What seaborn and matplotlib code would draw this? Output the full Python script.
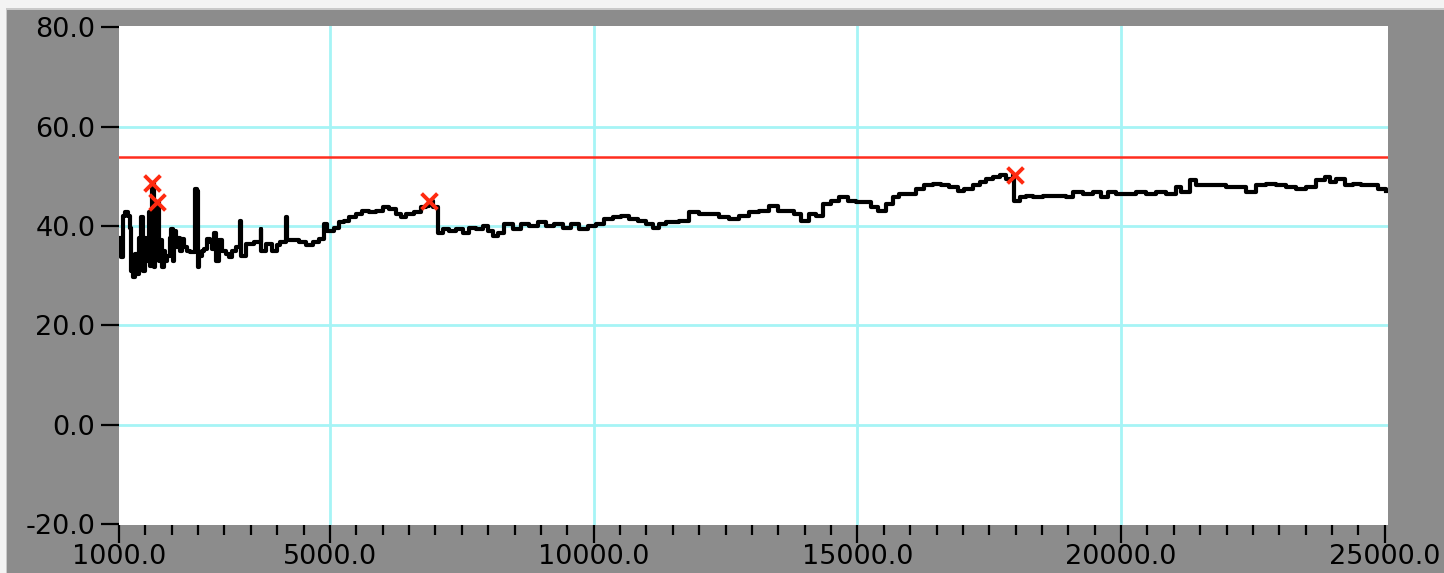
import matplotlib
matplotlib.use("Agg")
import matplotlib.pyplot as plt
import seaborn as sns
import pandas as pd
from matplotlib.patches import Rectangle
from matplotlib.ticker import MultipleLocator, FormatStrFormatter

# ---- data ----
x_vals = [
    1000, 1038, 1076, 1120, 1164, 1202, 1228, 1266, 1310, 1341, 1379, 1417, 1449, 1487,
    1519, 1563, 1594, 1632, 1658, 1689, 1721, 1753, 1784, 1816, 1847, 1879, 1911, 1961,
    1993, 2024, 2050, 2088, 2126, 2164, 2195, 2239, 2290, 2353, 2404, 2448, 2480, 2492,
    2518, 2575, 2619, 2670, 2720, 2764, 2809, 2840, 2897, 2960, 3020, 3086, 3150, 3210,
    3300, 3320, 3400, 3500, 3560, 3687, 3700, 3780, 3900, 3990, 4060, 4174, 4190, 4290,
    4420, 4541, 4670, 4795, 4889, 4950, 5040, 5079, 5174, 5269, 5363, 5490, 5616, 5743,
    5869, 5996, 6122, 6249, 6344, 6439, 6597, 6723, 6818, 6881, 6944, 7008, 7039, 7134,
    7261, 7387, 7514, 7640, 7767, 7893, 7988, 8083, 8178, 8304, 8462, 8620, 8778, 8937,
    9095, 9253, 9411, 9569, 9727, 9885, 10043, 10201, 10359, 10518, 10676, 10834, 10992,
    11118, 11245, 11371, 11434, 11623, 11813, 12003, 12193, 12382, 12572, 12762, 12951,
    13141, 13331, 13489, 13647, 13805, 13932, 14090, 14216, 14343, 14501, 14659, 14817,
    14975, 15133, 15260, 15386, 15544, 15671, 15797, 15955, 16113, 16272, 16430, 16588,
    16746, 16904, 17030, 17188, 17315, 17442, 17568, 17695, 17821, 17947, 17960, 18074,
    18200, 18327, 18516, 18769, 18959, 19085, 19275, 19465, 19623, 19749, 19907, 20097,
    20287, 20476, 20666, 20856, 21046, 21141, 21299, 21425, 21615, 21804, 21994, 22184,
    22374, 22563, 22753, 22943, 23132, 23322, 23512, 23702, 23860, 23955, 24081, 24239,
    24397, 24555, 24713, 24871, 25030,
]
y_vals = [
    37.7, 33.7, 42.1, 42.8, 42.1, 39.7, 31.0, 29.7, 34.4, 30.3, 37.7, 41.8, 31.0, 37.7,
    33.0, 42.8, 32.0, 48.6, 31.7, 39.1, 44.9, 33.0, 37.1, 31.7, 35.0, 33.0, 34.0, 37.7,
    39.4, 33.0, 39.1, 35.7, 37.7, 35.0, 37.4, 35.7, 35.0, 34.7, 34.7, 47.5, 47.1, 31.7,
    34.0, 35.0, 35.4, 37.4, 36.7, 35.4, 38.7, 33.0, 37.1, 35.0, 34.4, 33.7, 35.0, 35.7,
    41.1, 34.0, 36.4, 36.4, 36.7, 39.4, 35.0, 36.4, 35.0, 36.1, 36.7, 41.8, 37.1, 37.1,
    36.7, 36.1, 36.7, 37.4, 40.4, 39.1, 39.1, 39.7, 40.8, 41.1, 41.8, 42.4, 43.1, 42.8,
    43.1, 43.8, 43.4, 42.4, 41.8, 42.4, 42.8, 43.8, 44.1, 45.1, 43.8, 43.8, 38.7, 39.4,
    39.1, 39.4, 38.7, 39.7, 39.4, 40.1, 39.1, 38.1, 38.7, 40.4, 39.4, 40.4, 40.1, 40.8,
    40.1, 40.4, 39.7, 40.4, 39.4, 40.1, 40.4, 41.4, 41.8, 42.1, 41.4, 41.1, 40.4,
    39.7, 40.4, 40.8, 40.8, 41.1, 42.8, 42.4, 42.4, 41.8, 41.4, 42.1, 42.8,
    43.1, 44.1, 43.1, 43.1, 42.4, 41.1, 42.4, 42.1, 44.5, 45.1, 45.8, 45.1,
    44.8, 44.8, 43.8, 43.1, 44.5, 45.8, 46.5, 46.5, 47.5, 48.2, 48.5, 48.2,
    47.8, 47.1, 47.5, 48.2, 48.8, 49.5, 49.8, 50.2, 49.5, 50.2, 45.1, 45.8,
    46.1, 45.8, 46.1, 46.1, 45.8, 46.8, 46.5, 46.8, 45.8, 46.8, 46.5, 46.5,
    46.8, 46.5, 46.8, 46.5, 47.8, 46.8, 49.2, 48.2, 48.2, 48.2, 47.8, 47.8,
    46.8, 48.2, 48.5, 48.2, 47.8, 47.5, 47.8, 49.2, 49.8, 48.8, 49.5, 48.2,
    48.5, 48.2, 48.2, 47.5, 47.1,
]
marker_x = [1632, 1721, 6881, 17980]
marker_y = [48.6, 44.9, 45.1, 50.3]
limit_value = 54.0
x_ticks = [1000, 5000, 10000, 15000, 20000, 25000]
y_ticks = [-20, 0, 20, 40, 60, 80]

series = pd.DataFrame({"x": x_vals, "y": y_vals})
marks = pd.DataFrame({"x": marker_x, "y": marker_y})

plt.rcParams["font.family"] = ["DejaVu Sans"]
plt.rcParams["axes.unicode_minus"] = False

W, H = 1444, 573
fig = plt.figure(figsize=(W / 100, H / 100), dpi=100, facecolor="#f3f3f3")
fig.patches.append(Rectangle((6 / W, 0), 1, 1 - 8 / H, transform=fig.transFigure,
                             facecolor="#c9c9c9", edgecolor="none", zorder=-10))
fig.patches.append(Rectangle((7 / W, 0), 1, 1 - 10 / H, transform=fig.transFigure,
                             facecolor="#8c8c8c", edgecolor="none", zorder=-9))

left, right, top, bottom = 119, 1388, 26, 525
ax = fig.add_axes([left / W, 1 - bottom / H, (right - left) / W, (bottom - top) / H])
ax.set_zorder(5)
ax.set_facecolor("white")
for s in ax.spines.values():
    s.set_visible(False)

grid_c = "#a6f4f6"
for t in x_ticks[1:-1]:
    ax.axvline(t, color=grid_c, lw=2, zorder=1)
for t in y_ticks[1:-1]:
    ax.axhline(t, color=grid_c, lw=2, zorder=1)

ax.axhline(limit_value, color="#ff2d1e", lw=1.8, zorder=2)
sns.lineplot(data=series, x="x", y="y", ax=ax, color="black", linewidth=3.0,
             sort=False, estimator=None, drawstyle="steps-post", zorder=3)
sns.scatterplot(data=marks, x="x", y="y", ax=ax, marker="x", color="#ff2a10",
                s=130, linewidth=2.8, zorder=5)

ax.set_xlim(1000, 25060)
ax.set_ylim(-20.2, 80.3)
ax.set_xticks(x_ticks)
ax.set_yticks(y_ticks)
ax.xaxis.set_minor_locator(MultipleLocator(500))
ax.xaxis.set_major_formatter(FormatStrFormatter("%.1f"))
ax.yaxis.set_major_formatter(FormatStrFormatter("%.1f"))
ax.tick_params(axis="both", which="major", direction="out", length=13, width=1.6,
               labelsize=19.5, color="black", labelcolor="black")
ax.tick_params(axis="x", which="major", pad=1)
ax.tick_params(axis="y", which="major", pad=4)
ax.tick_params(axis="x", which="minor", direction="out", length=7, width=1.6, color="black")
ax.set_xlabel("")
ax.set_ylabel("")

fig.savefig("out.png", dpi=100, facecolor=fig.get_facecolor())
